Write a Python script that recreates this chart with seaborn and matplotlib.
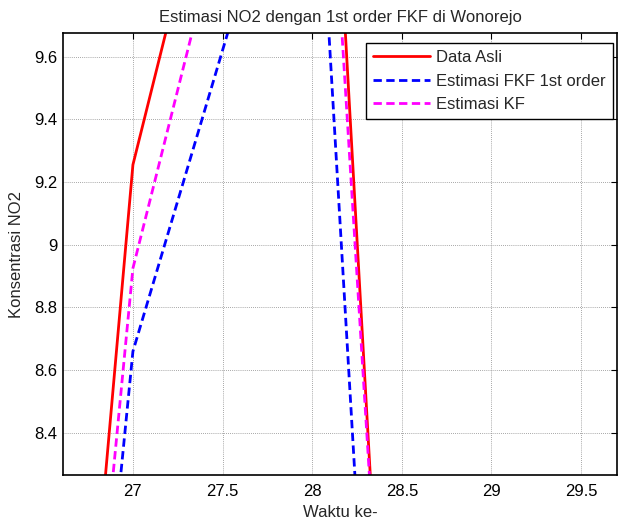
import matplotlib
matplotlib.use("Agg")
import matplotlib.pyplot as plt
import seaborn as sns
import pandas as pd

# Data (time index and NO2 concentrations)
waktu = [26, 27, 28, 29]
data_asli = [2.79, 9.255, 11.55, 1.41]
estimasi_fkf = [2.88, 8.66, 10.58, 0.86]
estimasi_kf = [2.99, 8.925, 11.2, 2.0]

series_names = ["Data Asli", "Estimasi FKF 1st order", "Estimasi KF"]
colors = {"Data Asli": "#ff0000", "Estimasi FKF 1st order": "#0000ff", "Estimasi KF": "#ff00ff"}
dashes = {"Data Asli": "", "Estimasi FKF 1st order": (3, 1.6), "Estimasi KF": (3, 1.6)}

xticks = [27, 27.5, 28, 28.5, 29, 29.5]
yticks = [8.4, 8.6, 8.8, 9.0, 9.2, 9.4, 9.6]
ytick_labels = ["8.4", "8.6", "8.8", "9", "9.2", "9.4", "9.6"]
xtick_labels = ["27", "27.5", "28", "28.5", "29", "29.5"]

df = pd.DataFrame({
    "Waktu": waktu * 3,
    "NO2": data_asli + estimasi_fkf + estimasi_kf,
    "Series": [series_names[0]] * 4 + [series_names[1]] * 4 + [series_names[2]] * 4,
})

sns.set_style("white")
plt.rcParams["font.family"] = ["Liberation Sans", "DejaVu Sans"]

fig = plt.figure(figsize=(6.2, 5.22), dpi=100)
ax = fig.add_axes([63 / 620, 1 - 475 / 522, (617 - 63) / 620, (475 - 33) / 522])

sns.lineplot(data=df, x="Waktu", y="NO2", hue="Series", style="Series",
             palette=colors, dashes=dashes, linewidth=2, ax=ax, sort=False,
             hue_order=series_names, style_order=series_names)

ax.set_xlim(26.61, 29.70)
ax.set_ylim(8.266, 9.675)
ax.set_xticks(xticks)
ax.set_xticklabels(xtick_labels)
ax.set_yticks(yticks)
ax.set_yticklabels(ytick_labels)

ax.grid(True, color="#8a8a8a", linestyle=(0, (1, 1.5)), linewidth=0.6)
ax.tick_params(direction="in", length=4, width=0.8, top=True, right=True,
               labelsize=12, colors="black")
ax.tick_params(axis="y", pad=4)
ax.tick_params(axis="x", pad=6.5)
for s in ax.spines.values():
    s.set_color("black")
    s.set_linewidth(1.2)
    s.set_visible(True)

ax.set_xlabel("Waktu ke-", fontsize=12, labelpad=4)
ax.set_ylabel("Konsentrasi NO2", fontsize=12, labelpad=7)
ax.set_title("Estimasi NO2 dengan 1st order FKF di Wonorejo", fontsize=12, pad=8)

leg = ax.legend(loc="upper right", bbox_to_anchor=(0.993, 0.978), borderaxespad=0,
                fontsize=12, handlelength=3.4, labelspacing=0.5, handletextpad=0.35,
                fancybox=False, framealpha=1, edgecolor="black", borderpad=0.45)
leg.get_frame().set_linewidth(1.0)

fig.savefig("out.png", dpi=100)
